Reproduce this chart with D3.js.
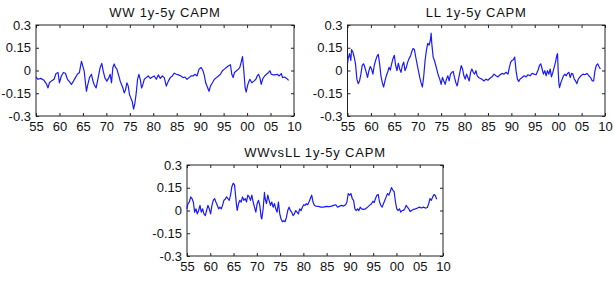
<!DOCTYPE html>
<html>
<head>
<meta charset="utf-8">
<script src="https://cdn.jsdelivr.net/npm/d3@7"></script>
<style>
  body { margin: 0; background: #fff; }
  svg { display: block; }
  .tick text { font-family: "Liberation Sans", Arial, sans-serif; font-size: 13px; fill: #111; }
  .title { font-family: "Liberation Sans", Arial, sans-serif; font-size: 13px; fill: #111; }
</style>
</head>
<body>
<div id="chart"></div>
<script>
const xTicks = [1955, 1960, 1965, 1970, 1975, 1980, 1985, 1990, 1995, 2000, 2005, 2010];
const xTickLabels = ['55', '60', '65', '70', '75', '80', '85', '90', '95', '00', '05', '10'];
const yTicks = [-0.3, -0.15, 0, 0.15, 0.3];
const yTickLabels = ['-0.3', '-0.15', '0', '0.15', '0.3'];
const titles = ['WW 1y-5y CAPM', 'LL 1y-5y CAPM', 'WWvsLL 1y-5y CAPM'];

// [year, value]
const wwSeries = [
  [1955.00, -0.043], [1955.43, -0.058], [1956.00, -0.052], [1956.71, -0.065], [1957.28, -0.092],
  [1957.56, -0.115], [1957.85, -0.081], [1958.28, -0.070], [1958.85, -0.058], [1959.27, -0.020],
  [1959.70, -0.013], [1959.99, -0.081], [1960.41, -0.036], [1960.84, -0.013], [1961.27, -0.018],
  [1961.70, -0.058], [1962.12, -0.074], [1962.55, -0.092], [1962.98, -0.070], [1963.40, -0.047],
  [1963.83, -0.025], [1964.26, -0.013], [1964.69, 0.061], [1964.97, 0.031], [1965.26, -0.002],
  [1965.54, -0.081], [1965.75, -0.137], [1965.97, -0.103], [1966.40, -0.047], [1966.82, -0.025],
  [1967.11, -0.065], [1967.39, -0.092], [1967.82, -0.115], [1968.11, -0.070], [1968.39, -0.025],
  [1968.68, 0.020], [1969.03, 0.047], [1969.32, -0.002], [1969.67, -0.047], [1970.10, -0.070],
  [1970.53, -0.047], [1970.81, -0.025], [1971.10, -0.081], [1971.38, 0.020], [1971.67, 0.043],
  [1971.95, 0.020], [1972.24, 0.009], [1972.66, -0.036], [1972.95, -0.070], [1973.23, -0.092],
  [1973.52, -0.115], [1973.80, -0.148], [1974.09, -0.126], [1974.37, -0.081], [1974.66, -0.103],
  [1974.94, -0.160], [1975.23, -0.182], [1975.51, -0.204], [1975.80, -0.254], [1976.08, -0.216],
  [1976.37, -0.148], [1976.65, -0.058], [1976.94, -0.025], [1977.22, -0.058], [1977.51, -0.115],
  [1977.79, -0.092], [1978.08, -0.058], [1978.50, -0.047], [1978.93, -0.036], [1979.36, -0.052],
  [1979.79, -0.043], [1980.21, -0.036], [1980.64, -0.058], [1981.07, -0.029], [1981.50, -0.052],
  [1981.92, -0.036], [1982.35, -0.047], [1982.78, -0.103], [1983.21, -0.070], [1983.63, -0.047],
  [1984.06, -0.036], [1984.49, -0.018], [1984.91, -0.025], [1985.34, -0.029], [1985.91, -0.036],
  [1986.34, -0.047], [1986.77, -0.043], [1987.19, -0.058], [1987.62, -0.047], [1988.05, -0.036],
  [1988.48, -0.036], [1988.90, -0.025], [1989.33, -0.036], [1989.76, 0.009], [1990.19, 0.020],
  [1990.61, -0.002], [1990.90, -0.036], [1991.18, -0.081], [1991.61, -0.115], [1991.89, -0.137],
  [1992.18, -0.103], [1992.61, -0.081], [1993.03, -0.058], [1993.46, -0.047], [1993.89, -0.036],
  [1994.32, -0.025], [1994.74, -0.002], [1995.17, 0.009], [1995.60, 0.020], [1996.03, 0.031],
  [1996.45, 0.038], [1996.74, -0.025], [1997.02, -0.047], [1997.31, -0.013], [1997.74, -0.002],
  [1998.16, 0.009], [1998.45, 0.020], [1998.73, 0.054], [1999.02, 0.092], [1999.30, -0.002],
  [1999.59, -0.115], [1999.80, -0.142], [2000.16, -0.092], [2000.58, -0.058], [2001.01, -0.081],
  [2001.44, -0.070], [2001.87, -0.058], [2002.15, -0.036], [2002.44, -0.025], [2002.72, -0.047],
  [2003.01, -0.092], [2003.30, -0.058], [2003.72, -0.036], [2004.15, -0.025], [2004.57, -0.013],
  [2004.86, -0.002], [2005.14, -0.025], [2005.57, -0.029], [2006.00, -0.029], [2006.42, -0.025],
  [2006.85, -0.036], [2007.28, -0.020], [2007.56, -0.047], [2007.99, -0.043], [2008.42, -0.052],
  [2008.85, -0.065]
];

const llSeries = [
  [1955.00, 0.044], [1955.14, 0.078], [1955.43, 0.111], [1955.71, 0.066], [1955.86, 0.138],
  [1956.14, 0.122], [1956.43, 0.089], [1956.71, 0.044], [1957.00, -0.057], [1957.29, -0.087],
  [1957.57, -0.069], [1957.86, -0.024], [1958.14, 0.033], [1958.43, 0.044], [1958.71, 0.021],
  [1959.00, -0.012], [1959.29, -0.046], [1959.57, -0.001], [1959.86, 0.026], [1960.14, 0.010],
  [1960.43, -0.024], [1960.71, 0.033], [1961.00, 0.066], [1961.29, 0.093], [1961.57, 0.107],
  [1961.86, 0.044], [1962.14, -0.035], [1962.43, -0.080], [1962.71, -0.109], [1963.00, -0.069],
  [1963.29, -0.035], [1963.57, -0.012], [1963.86, 0.021], [1964.14, 0.003], [1964.43, 0.044],
  [1964.71, 0.078], [1965.00, 0.100], [1965.29, 0.033], [1965.57, -0.001], [1965.86, 0.048],
  [1966.14, 0.010], [1966.43, -0.012], [1966.71, 0.033], [1967.00, 0.055], [1967.29, -0.001],
  [1967.57, 0.021], [1967.86, 0.055], [1968.14, 0.078], [1968.43, 0.093], [1968.71, 0.122],
  [1969.00, 0.145], [1969.29, 0.138], [1969.57, 0.089], [1969.86, 0.044], [1970.14, -0.001],
  [1970.43, -0.046], [1970.71, -0.080], [1971.00, -0.109], [1971.29, -0.035], [1971.57, 0.066],
  [1971.86, 0.134], [1972.14, 0.179], [1972.43, 0.167], [1972.71, 0.201], [1972.86, 0.246],
  [1973.00, 0.179], [1973.29, 0.089], [1973.57, 0.066], [1973.86, 0.033], [1974.14, -0.001],
  [1974.43, -0.035], [1974.71, -0.057], [1975.00, -0.091], [1975.29, -0.046], [1975.57, -0.069],
  [1975.86, -0.091], [1976.14, -0.057], [1976.43, -0.035], [1976.71, -0.069], [1977.00, -0.024],
  [1977.29, -0.012], [1977.57, -0.006], [1977.86, -0.046], [1978.14, -0.080], [1978.43, -0.102],
  [1978.71, -0.057], [1979.00, -0.012], [1979.29, 0.033], [1979.57, 0.010], [1979.86, -0.035],
  [1980.14, -0.057], [1980.43, -0.024], [1980.71, -0.046], [1981.00, -0.069], [1981.29, -0.012],
  [1981.57, 0.010], [1981.86, -0.012], [1982.14, -0.024], [1982.43, -0.001], [1982.71, -0.035],
  [1983.00, -0.046], [1983.29, -0.051], [1983.71, -0.057], [1984.14, -0.069], [1984.57, -0.057],
  [1985.00, -0.064], [1985.43, -0.051], [1985.86, -0.042], [1986.29, -0.024], [1986.71, -0.035],
  [1987.14, -0.042], [1987.57, -0.028], [1988.00, -0.019], [1988.43, -0.024], [1988.86, -0.012],
  [1989.29, -0.024], [1989.57, 0.021], [1989.86, 0.055], [1990.14, 0.066], [1990.43, 0.071],
  [1990.71, 0.089], [1991.00, -0.001], [1991.29, -0.057], [1991.57, -0.073], [1991.86, -0.057],
  [1992.29, -0.046], [1992.71, -0.035], [1993.14, -0.042], [1993.57, -0.028], [1994.00, -0.035],
  [1994.43, -0.019], [1994.86, -0.024], [1995.29, -0.028], [1995.71, 0.003], [1996.00, 0.033],
  [1996.29, 0.044], [1996.57, 0.010], [1996.86, -0.024], [1997.14, -0.001], [1997.43, -0.035],
  [1997.71, -0.001], [1998.00, -0.024], [1998.29, 0.010], [1998.57, -0.042], [1998.86, -0.012],
  [1999.14, 0.021], [1999.43, 0.055], [1999.71, 0.100], [1999.86, 0.111], [2000.00, -0.001],
  [2000.14, -0.080], [2000.29, -0.113], [2000.57, -0.080], [2000.86, -0.057], [2001.14, -0.035],
  [2001.43, -0.024], [2001.71, -0.035], [2002.00, -0.019], [2002.29, -0.012], [2002.57, -0.046],
  [2002.86, -0.019], [2003.14, -0.024], [2003.43, -0.057], [2003.71, -0.069], [2004.00, -0.087],
  [2004.29, -0.057], [2004.57, -0.046], [2004.86, -0.035], [2005.29, -0.024], [2005.71, -0.028],
  [2006.14, -0.019], [2006.57, -0.035], [2007.00, -0.051], [2007.29, -0.069], [2007.57, -0.069],
  [2007.86, -0.001], [2008.14, 0.033], [2008.43, 0.044], [2008.71, 0.026], [2009.00, 0.010]
];

const wwVsLlSeries = [
  [1955.00, 0.011], [1955.21, 0.045], [1955.50, 0.056], [1955.79, 0.090], [1956.07, 0.079],
  [1956.36, 0.056], [1956.64, -0.011], [1956.93, 0.011], [1957.21, -0.022], [1957.50, 0.000],
  [1957.79, 0.034], [1958.07, -0.011], [1958.36, 0.011], [1958.64, -0.022], [1958.93, -0.034],
  [1959.21, 0.000], [1959.50, 0.034], [1959.79, 0.011], [1960.07, -0.022], [1960.36, 0.034],
  [1960.64, 0.067], [1960.93, 0.079], [1961.21, 0.056], [1961.50, 0.034], [1961.79, 0.011],
  [1962.07, 0.022], [1962.36, 0.011], [1962.64, 0.034], [1962.93, 0.067], [1963.21, 0.074],
  [1963.50, 0.090], [1963.79, 0.079], [1964.07, 0.067], [1964.36, 0.101], [1964.64, 0.157],
  [1964.93, 0.180], [1965.21, 0.169], [1965.36, 0.124], [1965.64, 0.034], [1965.79, 0.000],
  [1966.07, 0.045], [1966.36, 0.067], [1966.64, 0.056], [1966.93, 0.090], [1967.21, 0.067],
  [1967.50, 0.079], [1967.79, 0.056], [1968.07, 0.101], [1968.36, 0.090], [1968.64, 0.067],
  [1968.93, 0.101], [1969.21, 0.056], [1969.50, 0.022], [1969.79, -0.011], [1970.07, 0.045],
  [1970.36, 0.067], [1970.64, 0.034], [1970.93, -0.045], [1971.07, -0.056], [1971.36, 0.011],
  [1971.64, 0.119], [1971.79, 0.079], [1972.07, 0.045], [1972.36, 0.101], [1972.64, 0.067],
  [1972.93, 0.034], [1973.21, 0.056], [1973.50, 0.022], [1973.79, 0.045], [1974.07, 0.011],
  [1974.36, -0.011], [1974.64, 0.056], [1974.93, -0.022], [1975.21, -0.056], [1975.50, -0.074],
  [1975.79, -0.067], [1976.07, -0.074], [1976.36, -0.045], [1976.64, 0.000], [1976.93, 0.022],
  [1977.21, 0.000], [1977.50, -0.011], [1977.79, -0.034], [1978.07, -0.022], [1978.36, 0.000],
  [1978.64, -0.011], [1978.93, -0.022], [1979.21, 0.011], [1979.50, 0.000], [1979.79, 0.022],
  [1980.07, 0.038], [1980.36, 0.034], [1980.64, 0.045], [1980.93, 0.038], [1981.21, 0.056],
  [1981.50, 0.079], [1981.79, 0.101], [1982.07, 0.056], [1982.36, 0.034], [1982.64, 0.029],
  [1983.21, 0.027], [1983.79, 0.022], [1984.36, 0.022], [1984.93, 0.027], [1985.50, 0.025],
  [1986.07, 0.029], [1986.50, 0.034], [1986.93, 0.038], [1987.36, 0.022], [1987.79, 0.029],
  [1988.21, 0.034], [1988.64, 0.029], [1989.07, 0.038], [1989.36, 0.056], [1989.64, 0.112],
  [1989.93, 0.101], [1990.21, 0.112], [1990.50, 0.079], [1990.79, 0.067], [1991.07, 0.011],
  [1991.36, 0.000], [1991.64, 0.011], [1991.93, 0.000], [1992.21, 0.022], [1992.50, 0.011],
  [1992.93, 0.007], [1993.36, 0.011], [1993.79, 0.022], [1994.21, 0.034], [1994.64, 0.045],
  [1994.93, 0.061], [1995.21, 0.052], [1995.50, 0.079], [1995.79, 0.101], [1996.07, 0.106],
  [1996.36, 0.056], [1996.64, 0.034], [1996.93, 0.022], [1997.21, 0.045], [1997.50, 0.067],
  [1997.79, 0.090], [1998.07, 0.112], [1998.36, 0.101], [1998.64, 0.124], [1998.93, 0.151],
  [1999.21, 0.135], [1999.50, 0.124], [1999.79, 0.056], [2000.07, 0.011], [2000.36, 0.000],
  [2000.64, 0.011], [2000.93, -0.011], [2001.21, 0.000], [2001.50, 0.000], [2001.79, 0.011],
  [2002.07, 0.034], [2002.36, 0.022], [2002.64, 0.011], [2002.93, -0.007], [2003.21, 0.000],
  [2003.64, 0.007], [2004.07, 0.011], [2004.50, 0.016], [2004.93, 0.022], [2005.36, 0.016],
  [2005.79, 0.022], [2006.21, 0.016], [2006.64, 0.020], [2006.93, 0.045], [2007.21, 0.079],
  [2007.50, 0.067], [2007.79, 0.090], [2008.07, 0.106], [2008.36, 0.097], [2008.64, 0.074]
];

const seriesList = [wwSeries, llSeries, wwVsLlSeries];

// panel boxes in page pixels
const panels = [
  { left: 36, top: 25, width: 258, height: 91 },
  { left: 347.5, top: 25, width: 257.5, height: 91 },
  { left: 187, top: 165, width: 256, height: 91 }
];

const tickLen = 3;

let svg = d3.select('#chart')
            .append('svg')
            .attr('width', 614)
            .attr('height', 282);

panels.forEach((p, i) => {
  let g = svg.append('g')
             .attr('transform', `translate(${p.left}, ${p.top})`);

  let x = d3.scaleLinear()
            .domain([1955, 2010])
            .range([0, p.width]);

  let y = d3.scaleLinear()
            .domain([-0.3, 0.3])
            .range([p.height, 0]);

  // Bottom axis with labels, ticks pointing inward.
  g.append('g')
   .attr('transform', `translate(0, ${p.height})`)
   .call(d3.axisBottom(x)
           .tickValues(xTicks)
           .tickFormat((d, k) => xTickLabels[k])
           .tickSizeInner(-tickLen)
           .tickSizeOuter(0)
           .tickPadding(6));

  // Top axis, ticks only.
  g.append('g')
   .call(d3.axisTop(x)
           .tickValues(xTicks)
           .tickFormat('')
           .tickSizeInner(-tickLen)
           .tickSizeOuter(0));

  // Left axis with labels.
  g.append('g')
   .call(d3.axisLeft(y)
           .tickValues(yTicks)
           .tickFormat((d, k) => yTickLabels[k])
           .tickSizeInner(-tickLen)
           .tickSizeOuter(0)
           .tickPadding(5));

  // Right axis, ticks only.
  g.append('g')
   .attr('transform', `translate(${p.width}, 0)`)
   .call(d3.axisRight(y)
           .tickValues(yTicks)
           .tickFormat('')
           .tickSizeInner(-tickLen)
           .tickSizeOuter(0));

  g.selectAll('.domain').remove();
  g.selectAll('.tick line').attr('stroke', '#222');

  g.append('rect')
   .attr('x', 0)
   .attr('y', 0)
   .attr('width', p.width)
   .attr('height', p.height)
   .attr('fill', 'none')
   .attr('stroke', '#222')
   .attr('stroke-width', 1);

  let line = d3.line()
               .x((d) => x(d[0]))
               .y((d) => y(d[1]));

  g.append('path')
   .datum(seriesList[i])
   .attr('d', line)
   .attr('fill', 'none')
   .attr('stroke', '#1a1aff')
   .attr('stroke-width', 1.2)
   .attr('stroke-linejoin', 'round');

  g.append('text')
   .attr('class', 'title')
   .attr('x', p.width / 2)
   .attr('y', -8)
   .attr('text-anchor', 'middle')
   .style('letter-spacing', '0.8px')
   .text(titles[i]);
});
</script>
</body>
</html>
